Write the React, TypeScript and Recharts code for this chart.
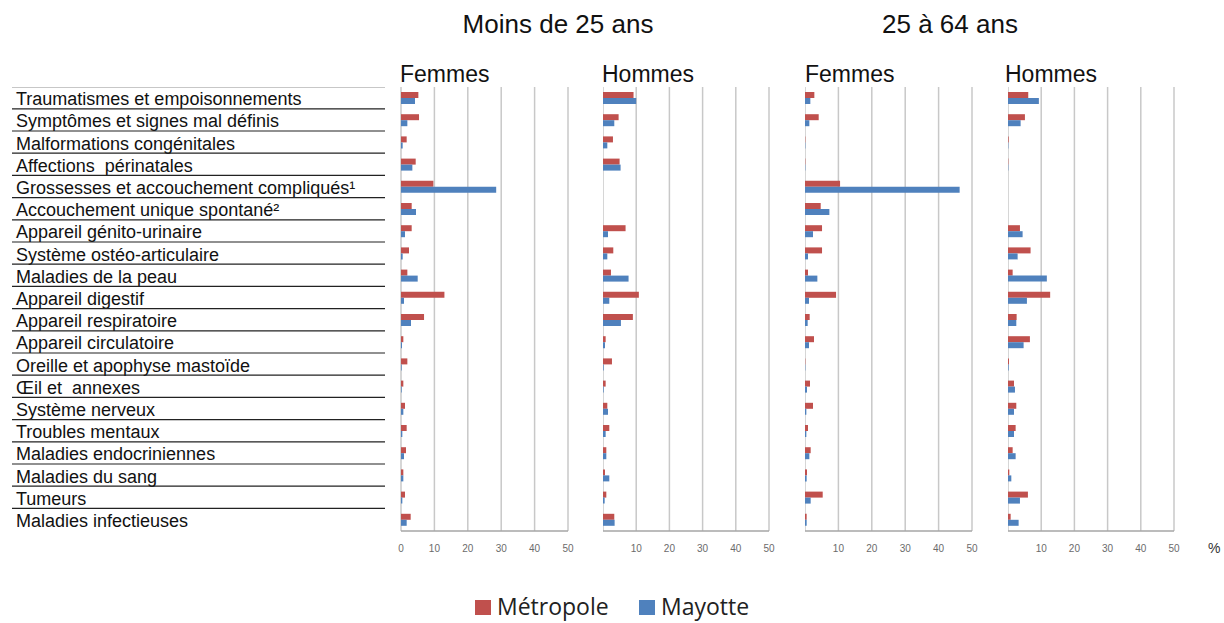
import React from 'react';
import { BarChart, Bar, XAxis, YAxis, CartesianGrid } from 'recharts';

const categories = [
  'Traumatismes et empoisonnements',
  'Symptômes et signes mal définis',
  'Malformations congénitales',
  'Affections  périnatales',
  'Grossesses et accouchement compliqués¹',
  'Accouchement unique spontané²',
  'Appareil génito-urinaire',
  'Système ostéo-articulaire',
  'Maladies de la peau',
  'Appareil digestif',
  'Appareil respiratoire',
  'Appareil circulatoire',
  'Oreille et apophyse mastoïde',
  'Œil et  annexes',
  'Système nerveux',
  'Troubles mentaux',
  'Maladies endocriniennes',
  'Maladies du sang',
  'Tumeurs',
  'Maladies infectieuses',
];

// % of hospital stays
const metroFemmes25 = [5.2, 5.4, 1.7, 4.4, 9.7, 3.2, 3.2, 2.4, 1.9, 13.0, 6.9, 0.7, 1.9, 0.7, 1.2, 1.7, 1.5, 0.7, 1.2, 2.9];
const mayotteFemmes25 = [4.2, 1.9, 0.5, 3.4, 28.5, 4.5, 1.2, 0.5, 5.0, 0.9, 3.0, 0.3, 0.2, 0.2, 0.7, 0.4, 0.9, 0.7, 0.4, 1.7];
const metroHommes25 = [9.2, 4.7, 3.0, 5.0, 0, 0, 6.8, 3.1, 2.4, 10.8, 9.0, 0.8, 2.7, 0.8, 1.3, 1.9, 1.0, 0.6, 1.0, 3.4];
const mayotteHommes25 = [10.0, 3.4, 1.3, 5.3, 0, 0, 1.5, 1.3, 7.7, 1.9, 5.4, 0.6, 0.2, 0.2, 1.5, 0.8, 1.0, 1.9, 0.5, 3.5];
const metroFemmes64 = [2.8, 4.1, 0.1, 0.1, 10.5, 4.7, 5.1, 5.1, 0.9, 9.3, 1.4, 2.7, 0.1, 1.5, 2.4, 0.9, 1.7, 0.6, 5.3, 0.5];
const mayotteFemmes64 = [1.6, 1.3, 0.1, 0.1, 46.3, 7.3, 2.4, 0.9, 3.7, 1.2, 0.8, 1.2, 0.1, 0.6, 0.4, 0.4, 1.3, 0.5, 1.7, 0.5];
const metroHommes64 = [6.1, 5.1, 0.2, 0.1, 0, 0, 3.6, 6.8, 1.4, 12.7, 2.6, 6.6, 0.3, 1.8, 2.5, 2.3, 1.4, 0.4, 6.0, 0.8];
const mayotteHommes64 = [9.3, 3.8, 0.1, 0.1, 0, 0, 4.4, 2.9, 11.7, 5.7, 2.5, 4.7, 0.2, 2.1, 1.8, 1.8, 2.3, 1.0, 3.6, 3.2];

const xTicks = [0, 10, 20, 30, 40, 50];

const RED = '#C0504D';
const BLUE = '#4F81BD';

const series = [
  { key: 'metro', name: 'Métropole', color: RED },
  { key: 'mayotte', name: 'Mayotte', color: BLUE },
];

const panels = [
  { sex: 'Femmes', metro: metroFemmes25, mayotte: mayotteFemmes25, left: 0, yWidth: 401, plotW: 167, titleX: 400 },
  { sex: 'Hommes', metro: metroHommes25, mayotte: mayotteHommes25, left: 603, yWidth: 0, plotW: 166, titleX: 602 },
  { sex: 'Femmes', metro: metroFemmes64, mayotte: mayotteFemmes64, left: 805, yWidth: 0, plotW: 167, titleX: 805 },
  { sex: 'Hommes', metro: metroHommes64, mayotte: mayotteHommes64, left: 1008, yWidth: 0, plotW: 166, titleX: 1005 },
];

const TOP = 87;
const PLOT_H = 444;
const X_H = 30;

const LabelTick = (props: any) => {
  const { y, payload } = props;
  return (
    <g>
      <line x1={12} x2={385} y1={y - 11.5} y2={y - 11.5} stroke="#222" strokeWidth={1.2} />
      <text x={16} y={y + 7} fontSize={18} fill="#111" fontFamily="'Liberation Sans', Arial, sans-serif" style={{ whiteSpace: 'pre' }}>
        {payload.value}
      </text>
    </g>
  );
};

function Panel({ p }: { p: (typeof panels)[number] }) {
  const data = categories.map((name, i) => ({ name, metro: p.metro[i], mayotte: p.mayotte[i] }));
  const width = p.yWidth + p.plotW + 6;
  return (
    <div style={{ position: 'absolute', left: p.left, top: TOP }}>
      <BarChart
        width={width}
        height={PLOT_H + X_H}
        data={data}
        layout="vertical"
        margin={{ top: 0, right: 6, bottom: 0, left: 0 }}
        barSize={6}
        barGap={0}
      >
        <CartesianGrid horizontal={false} stroke="#c8c8c8" strokeWidth={1.5} />
        <XAxis
          type="number"
          domain={[0, 50]}
          ticks={xTicks}
          height={X_H}
          tickLine={false}
          axisLine={{ stroke: '#a6a6a6', strokeWidth: 1.5 }}
          tick={{ fontSize: 10, fill: '#6b6b6b', fontFamily: "'Liberation Sans Narrow', 'Liberation Sans', sans-serif" }}
          tickMargin={8}
        />
        {p.yWidth > 0 ? (
          <YAxis
            type="category"
            dataKey="name"
            width={p.yWidth}
            axisLine={false}
            tickLine={false}
            interval={0}
            tick={<LabelTick />}
          />
        ) : (
          <YAxis type="category" dataKey="name" hide />
        )}
        {series.map((s) => (
          <Bar key={s.key} dataKey={s.key} name={s.name} fill={s.color} isAnimationActive={false} />
        ))}
      </BarChart>
    </div>
  );
}

export default function App() {
  return (
    <div style={{ position: 'absolute', left: 0, top: 0, width: 1224, height: 623, background: '#fff', overflow: 'hidden' }}>
      <svg width={1224} height={623} style={{ position: 'absolute', left: 0, top: 0 }}>
        <g fontFamily="'Liberation Sans', Arial, sans-serif" fill="#111">
          <text x={558} y={33} fontSize={26} textAnchor="middle">Moins de 25 ans</text>
          <text x={950} y={33} fontSize={26} textAnchor="middle">25 à 64 ans</text>
          {panels.map((p, i) => (
            <text key={i} x={p.titleX} y={82} fontSize={23}>{p.sex}</text>
          ))}
          <text x={1208} y={553} fontSize={14} fill="#333">%</text>
        </g>
        <g fontFamily="'Open Sans', sans-serif" fontSize={23} fill="#222">
          {series.map((s, i) => (
            <g key={s.key} transform={`translate(${475 + i * 164}, 0)`}>
              <rect x={0} y={600} width={16} height={15} fill={s.color} />
              <text x={22} y={615}>{s.name}</text>
            </g>
          ))}
        </g>
      </svg>
      {panels.map((p, i) => (
        <Panel key={i} p={p} />
      ))}
    </div>
  );
}
